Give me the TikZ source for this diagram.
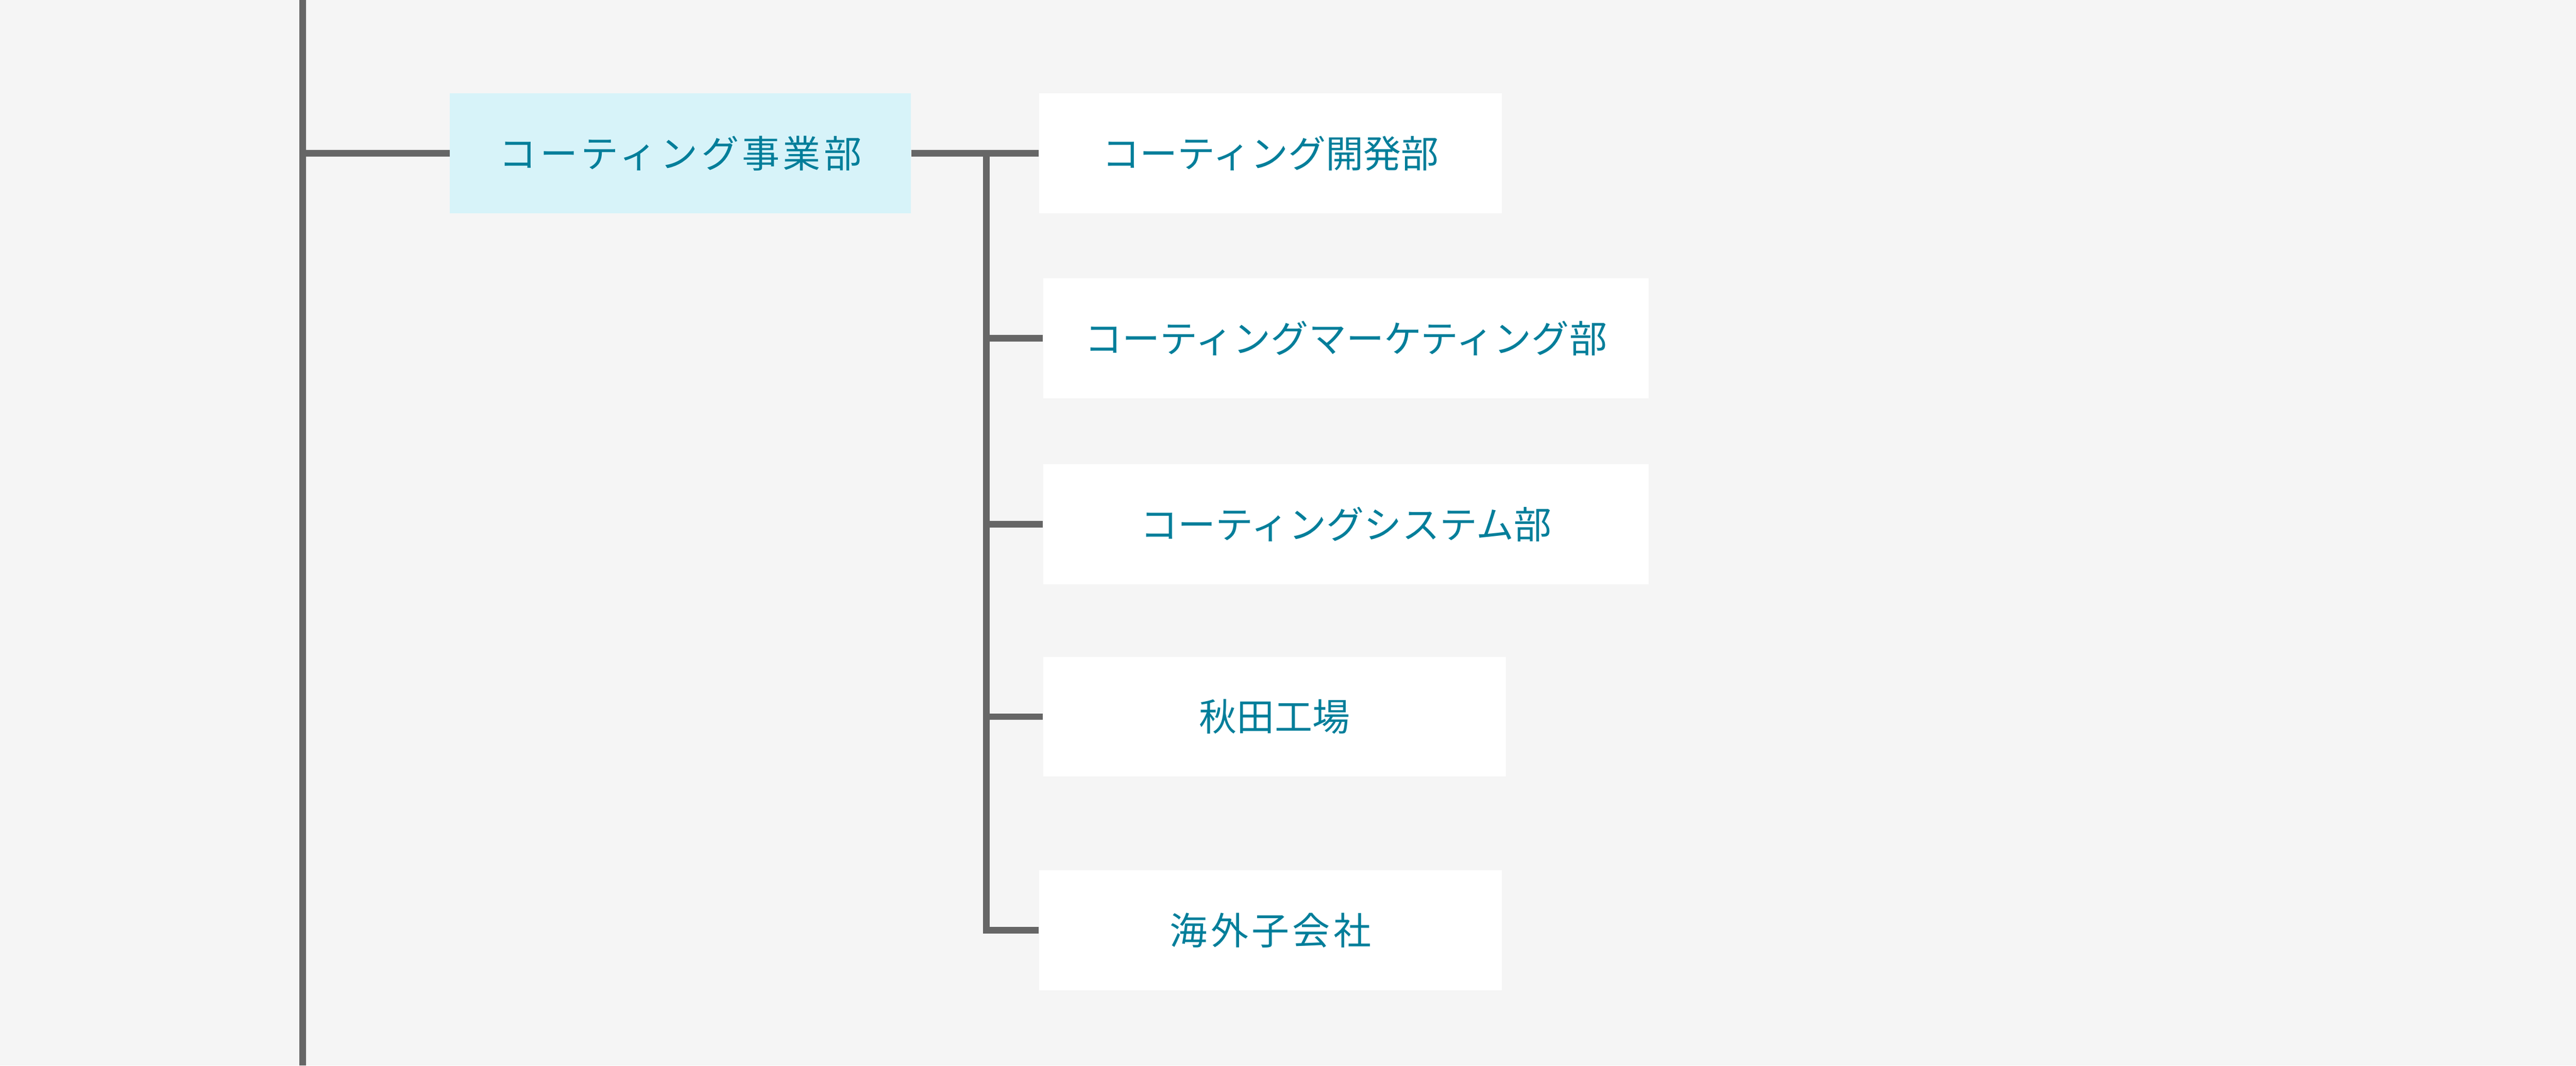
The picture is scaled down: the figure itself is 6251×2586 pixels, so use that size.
\documentclass[tikz,border=0pt]{standalone}
\usepackage{fontspec}
\setmainfont{Noto Sans CJK JP}
\newfontfamily\widejp[LetterSpace=8.5]{Noto Sans CJK JP}
\definecolor{bggray}{HTML}{F5F5F5}
\definecolor{linegray}{HTML}{666666}
\definecolor{deptteal}{HTML}{007E9A}
\definecolor{headcyan}{HTML}{D7F3F9}
\tikzset{
	dept/.style={fill=white, text=deptteal, inner sep=0pt, minimum height=2.91cm, font=\fontsize{26}{31}\selectfont},
	widedept/.style={dept, font=\widejp\fontsize{26}{31}\selectfont},
	head/.style={widedept, fill=headcyan},
	link/.style={draw=linegray, line width=4.6pt}
}
\begin{document}
\begin{tikzpicture}[x=0.01cm, y=-0.01cm]
		\fill[bggray] (0,0) rectangle (6251,2586);
		\useasboundingbox (0,0) rectangle (6251,2586);

		% main line
		\coordinate (top) at (735,0);
		\coordinate (bottom) at (735,2586);
		\draw[link] (top) -- (bottom);

		\node[head, minimum width=11.18cm] (coating) at (1651,372) {コーティング事業部};
		\draw[link] (735,372) -- (coating.west);

		\node[dept, minimum width=11.22cm] (dev) at (3083,372) {コーティング開発部};
		\node[dept, minimum width=14.68cm] (mkt) at (3266,821) {コーティングマーケティング部};
		\node[dept, minimum width=14.68cm] (sys) at (3266,1272) {コーティングシステム部};
		\node[dept, minimum width=11.22cm] (akita) at (3093,1739) {秋田工場};
		\node[widedept, minimum width=11.22cm] (overseas) at (3083,2257) {海外子会社};

		% branches
		\coordinate (fork) at (2394,372);
		\draw[link] (coating.east) -- (dev.west);
		\draw[link] (fork) |- (overseas.west);
		\draw[link] (fork |- mkt) -- (mkt.west);
		\draw[link] (fork |- sys) -- (sys.west);
		\draw[link] (fork |- akita) -- (akita.west);
	\end{tikzpicture}
\end{document}
